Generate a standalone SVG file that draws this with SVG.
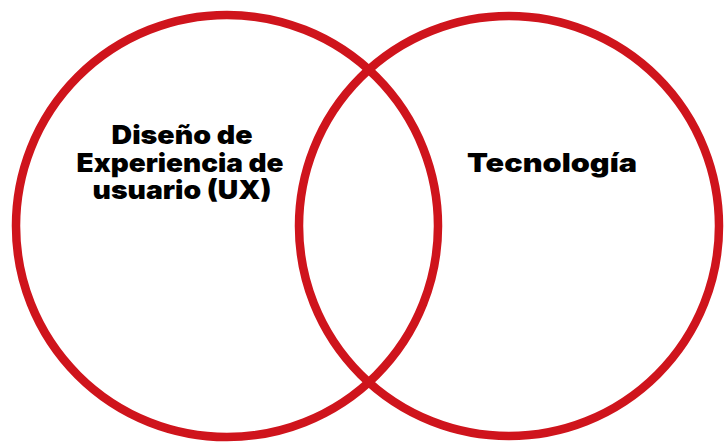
<svg xmlns="http://www.w3.org/2000/svg" width="724" height="444" viewBox="0 0 724 444">
<style>
.c{fill:none;stroke:#cf141c;stroke-width:8.5}
.t{font-family:Inter,Lato,Roboto,"Liberation Sans",sans-serif;font-weight:900;font-size:26px;fill:#000;text-anchor:middle}
</style>
<rect width="724" height="444" fill="#fff"/>
<g id="ux">
<circle class="c" cx="227" cy="226" r="211"/>
<text class="t" x="182" y="144" textLength="141" lengthAdjust="spacingAndGlyphs">Diseño de</text>
<text class="t" x="180" y="172" textLength="207" lengthAdjust="spacingAndGlyphs">Experiencia de</text>
<text class="t" x="182" y="199" textLength="179" lengthAdjust="spacingAndGlyphs">usuario (UX)</text>
</g>
<g id="tec">
<circle class="c" cx="509" cy="226" r="210"/>
<text class="t" x="552" y="172" textLength="170" lengthAdjust="spacingAndGlyphs">Tecnología</text>
</g>
<g id="connectors"/>
</svg>
